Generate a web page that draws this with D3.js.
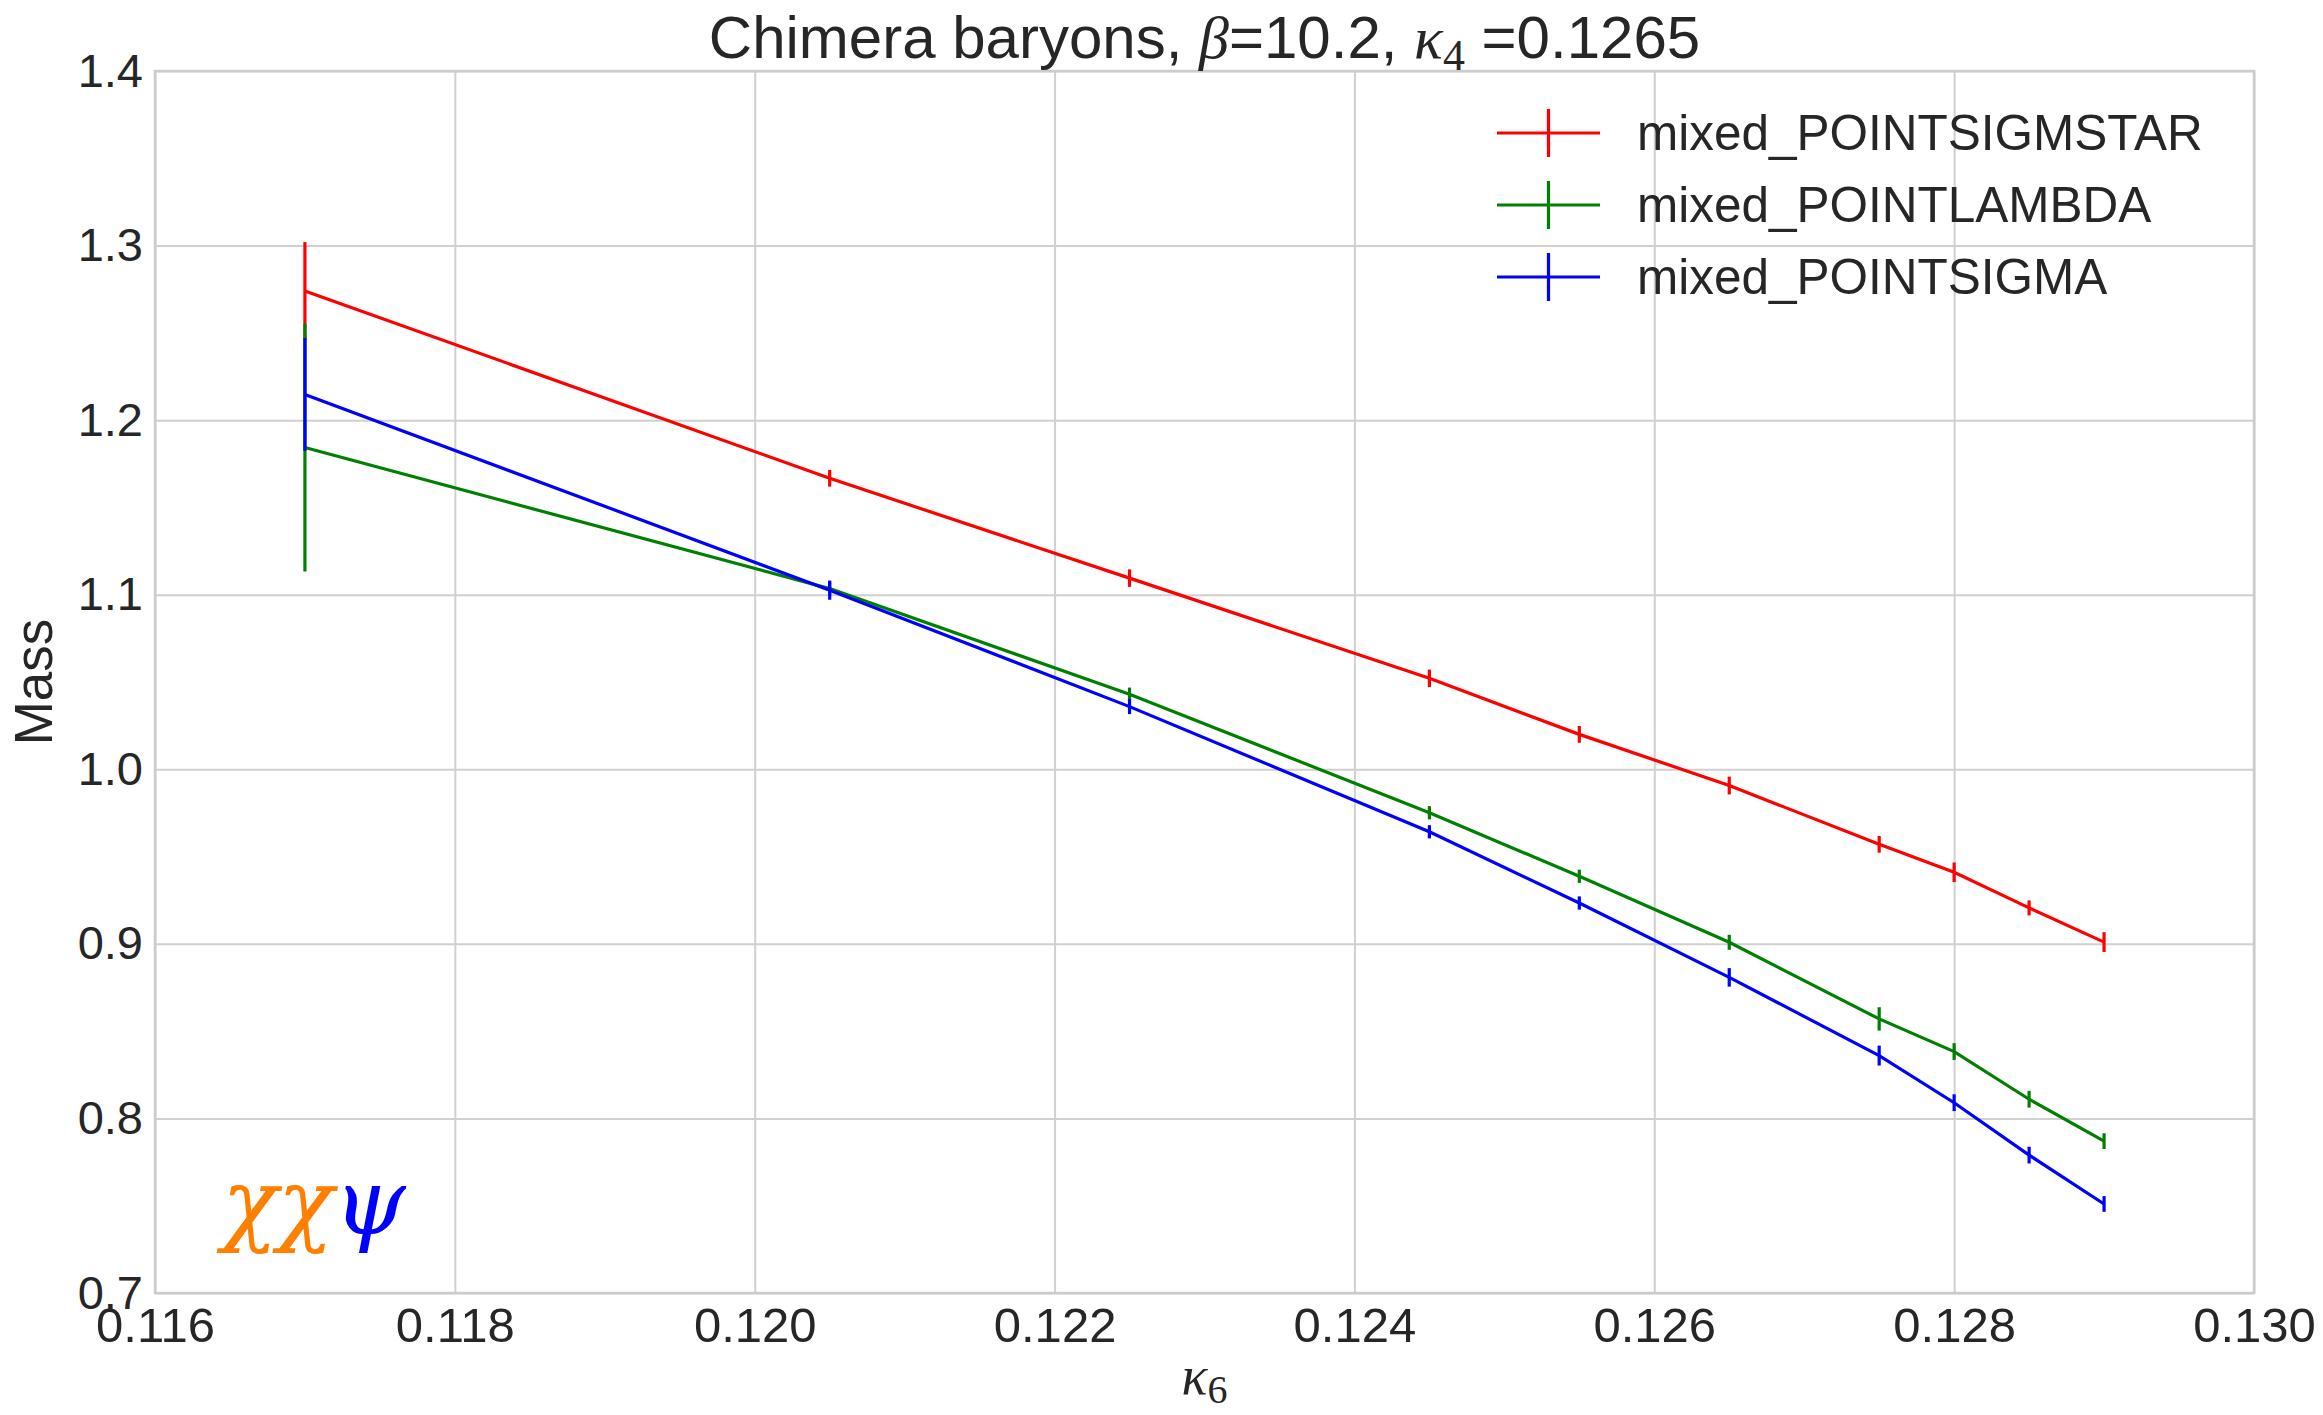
<!DOCTYPE html>
<html>
  <head>
    <meta charset="UTF-8" />
    <style>
      body {
        margin: 0;
        background: #fff;
      }
      svg text {
        font-family: "Liberation Sans", Arial, sans-serif;
        fill: #262626;
      }
      .math {
        font-family: "Liberation Serif", "DejaVu Serif", serif;
      }
    </style>
  </head>
  <body>
    <svg></svg>

    <script src="https://d3js.org/d3.v7.min.js"></script>

    <script>
      // data
      const kappa6 = [0.117, 0.1205, 0.1225, 0.1245, 0.1255, 0.1265, 0.1275, 0.128, 0.1285, 0.129];
      const sigmstar = [1.274, 1.1667, 1.1095, 1.0521, 1.02, 0.9907, 0.957, 0.941, 0.9206, 0.901];
      const sigmstarErr = [0.028, 0.0048, 0.005, 0.005, 0.0048, 0.0051, 0.0048, 0.0056, 0.0043, 0.0057];
      const lambda = [1.1843, 1.1035, 1.043, 0.9751, 0.9387, 0.9009, 0.857, 0.8383, 0.811, 0.787];
      const lambdaErr = [0.071, 0.004, 0.0038, 0.0038, 0.0038, 0.0043, 0.0067, 0.0048, 0.0048, 0.0045];
      const sigma = [1.2147, 1.1026, 1.0359, 0.9642, 0.9234, 0.8808, 0.836, 0.809, 0.779, 0.751];
      const sigmaErr = [0.0323, 0.0055, 0.0043, 0.0038, 0.0038, 0.0053, 0.0057, 0.0048, 0.0048, 0.0045];

      const seriesNames = ["mixed_POINTSIGMSTAR", "mixed_POINTLAMBDA", "mixed_POINTSIGMA"];
      const seriesColors = ["#ff0000", "#008000", "#0000ff"];
      const xTicks = [0.116, 0.118, 0.12, 0.122, 0.124, 0.126, 0.128, 0.13];
      const yTicks = [0.7, 0.8, 0.9, 1.0, 1.1, 1.2, 1.3, 1.4];

      let width = 2323,
        height = 1415;
      let margin = { left: 155, right: 69, top: 71, bottom: 122 };

      let svg = d3.select("svg").attr("width", width).attr("height", height);

      let x = d3
        .scaleLinear()
        .domain([0.116, 0.13])
        .range([margin.left, width - margin.right]);
      let y = d3
        .scaleLinear()
        .domain([0.7, 1.4])
        .range([height - margin.bottom, margin.top]);

      // grid
      let xGrid = svg
        .append("g")
        .attr("transform", "translate(0," + (height - margin.bottom) + ")")
        .call(
          d3
            .axisBottom(x)
            .tickValues(xTicks)
            .tickSize(-(height - margin.top - margin.bottom))
            .tickFormat(d3.format(".3f"))
        );
      xGrid.select(".domain").remove();
      xGrid.selectAll("line").attr("stroke", "#d0d0d0").attr("stroke-width", 2);
      xGrid
        .selectAll("text")
        .attr("y", 14)
        .attr("dy", "0.71em")
        .style("font-size", "49px")
        .attr("fill", "#262626");

      let yGrid = svg
        .append("g")
        .attr("transform", "translate(" + margin.left + ",0)")
        .call(
          d3
            .axisLeft(y)
            .tickValues(yTicks)
            .tickSize(-(width - margin.left - margin.right))
            .tickFormat(d3.format(".1f"))
        );
      yGrid.select(".domain").remove();
      yGrid.selectAll("line").attr("stroke", "#d0d0d0").attr("stroke-width", 2);
      yGrid
        .selectAll("text")
        .attr("x", -12)
        .style("font-size", "47px")
        .attr("fill", "#262626");

      svg
        .append("rect")
        .attr("x", margin.left)
        .attr("y", margin.top)
        .attr("width", width - margin.left - margin.right)
        .attr("height", height - margin.top - margin.bottom)
        .attr("fill", "none")
        .attr("stroke", "#cccccc")
        .attr("stroke-width", 2.5);

      // series with error bars
      let series = [
        { values: sigmstar, errs: sigmstarErr },
        { values: lambda, errs: lambdaErr },
        { values: sigma, errs: sigmaErr },
      ];

      let line = d3
        .line()
        .x((d) => x(d[0]))
        .y((d) => y(d[1]));

      series.forEach(function (s, i) {
        let pts = kappa6.map((k, j) => [k, s.values[j], s.errs[j]]);
        let g = svg.append("g");
        g.append("path")
          .datum(pts)
          .attr("d", line)
          .attr("fill", "none")
          .attr("stroke", seriesColors[i])
          .attr("stroke-width", 3.2);
        g.selectAll("line")
          .data(pts)
          .enter()
          .append("line")
          .attr("x1", (d) => x(d[0]))
          .attr("x2", (d) => x(d[0]))
          .attr("y1", (d) => y(d[1] - d[2]))
          .attr("y2", (d) => y(d[1] + d[2]))
          .attr("stroke", seriesColors[i])
          .attr("stroke-width", 3.2);
      });

      // legend
      let legend = svg.append("g").attr("transform", "translate(1497,133)");
      seriesNames.forEach(function (name, i) {
        let row = legend.append("g").attr("transform", "translate(0," + i * 72 + ")");
        row.append("line")
          .attr("x1", 0).attr("x2", 103)
          .attr("stroke", seriesColors[i]).attr("stroke-width", 3.2);
        row.append("line")
          .attr("x1", 51.5).attr("x2", 51.5)
          .attr("y1", -24).attr("y2", 24)
          .attr("stroke", seriesColors[i]).attr("stroke-width", 3.2);
        row.append("text")
          .attr("x", 140)
          .attr("dy", "0.35em")
          .style("font-size", "49.5px")
          .text(name);
      });

      // title
      let title = svg
        .append("text")
        .attr("x", (margin.left + width - margin.right) / 2)
        .attr("y", 58)
        .attr("text-anchor", "middle")
        .style("font-size", "60px");
      title.append("tspan").text("Chimera baryons, ");
      title.append("tspan").attr("class", "math").style("font-style", "italic").text("β");
      title.append("tspan").text("=10.2, ");
      title.append("tspan").attr("class", "math").style("font-style", "italic").text("κ");
      title.append("tspan").attr("class", "math").attr("dy", 12).style("font-size", "44px").text("4");
      title.append("tspan").attr("dy", -12).text(" =0.1265");

      // axis labels
      svg
        .append("text")
        .attr("transform", "translate(52," + (margin.top + height - margin.bottom) / 2 + ") rotate(-90)")
        .attr("text-anchor", "middle")
        .style("font-size", "53px")
        .text("Mass");

      let xl = svg
        .append("text")
        .attr("class", "math")
        .attr("x", (margin.left + width - margin.right) / 2)
        .attr("y", 1394)
        .attr("text-anchor", "middle")
        .style("font-size", "54px");
      xl.append("tspan").style("font-style", "italic").text("κ");
      xl.append("tspan").attr("dy", 9).style("font-size", "40px").text("6");

      // chi chi psi mark
      let mark = svg
        .append("text")
        .attr("x", 222)
        .attr("y", 1234)
        .style("font-family", "'DejaVu Serif', serif")
        .style("font-size", "92px")
        .style("font-style", "italic");
      mark.append("tspan").attr("fill", "#ff7f00").text("χχ");
      mark.append("tspan").attr("fill", "#0000ff").text("ψ");
    </script>
  </body>
</html>
